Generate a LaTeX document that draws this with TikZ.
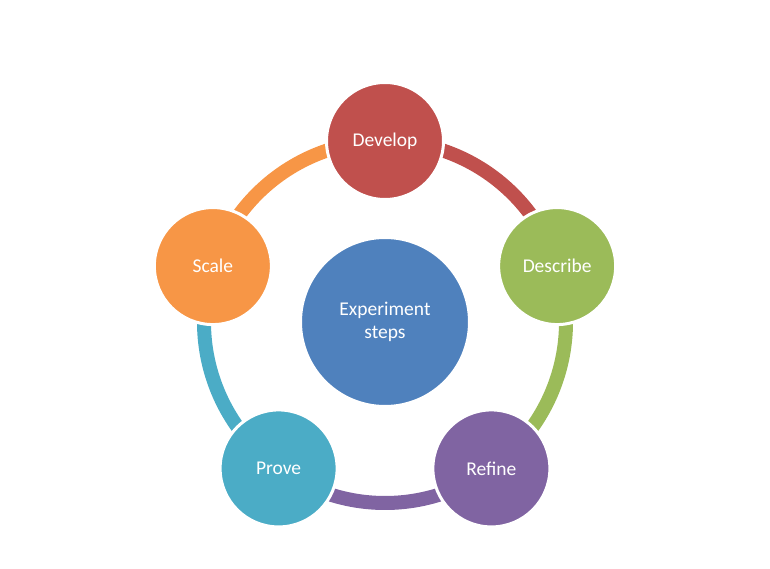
\documentclass[tikz,border=0pt]{standalone}
\usepackage{fontspec}
\setmainfont{Carlito}
\usetikzlibrary{backgrounds}
\definecolor{devred}{HTML}{C0504D}
\definecolor{descgreen}{HTML}{9BBB59}
\definecolor{refpurple}{HTML}{8064A2}
\definecolor{provteal}{HTML}{4BACC6}
\definecolor{scaleorange}{HTML}{F79646}
\definecolor{expblue}{HTML}{4F81BD}
\tikzset{
  stepcircle/.style={circle, draw=white, line width=3pt, minimum size=117pt, inner sep=0pt, text=white, font=\fontsize{19.5}{22}\selectfont},
  hubcircle/.style={circle, draw=white, line width=3pt, minimum size=169pt, inner sep=0pt, text=white, align=center, font=\fontsize{19.5}{23}\selectfont},
  ringarc/.style={line width=14pt}
}
\begin{document}
\begin{tikzpicture}[x=1pt,y=1pt]
\useasboundingbox (-385,-247) rectangle (385,322);

\node [hubcircle, fill=expblue] (exp) at (0,0) {Experiment\\steps};

\node [stepcircle, fill=devred] (develop) at (90:181) {Develop};
\node [stepcircle, fill=descgreen] (describe) at (18:181) {Describe};
\node [stepcircle, fill=refpurple] (refine) at (-54:181) {Refine};
\node [stepcircle, fill=provteal] (prove) at (-126:181) {Prove};
\node [stepcircle, fill=scaleorange] (scale) at (162:181) {Scale};

% ring segments, behind the circles
\begin{pgfonlayer}{background}
\draw [ringarc, devred] (develop.center) arc (90:18:181);
\draw [ringarc, descgreen] (describe.center) arc (18:-54:181);
\draw [ringarc, refpurple] (refine.center) arc (-54:-126:181);
\draw [ringarc, provteal] (prove.center) arc (-126:-198:181);
\draw [ringarc, scaleorange] (scale.center) arc (162:90:181);
\end{pgfonlayer}

\end{tikzpicture}
\end{document}
